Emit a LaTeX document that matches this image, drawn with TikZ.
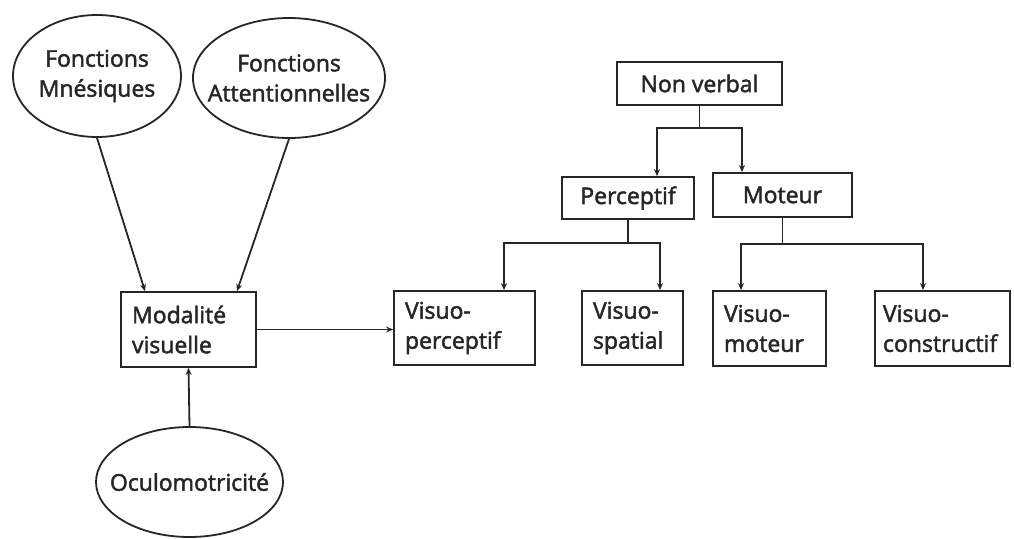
\documentclass[tikz,border=0pt]{standalone}
\usepackage{fontspec}
\setmainfont{Open Sans}
\usetikzlibrary{shapes.geometric,arrows.meta}
\begin{document}
\begin{tikzpicture}[x=1pt,y=-1pt,
  line width=1.8pt, color=black!85,
  txt/.style={font=\fontsize{23}{30}\selectfont\addfontfeatures{FakeBold=2}},
  ell/.style={draw, ellipse, inner sep=0pt},
  cbox/.style={draw, rectangle, inner sep=0pt, align=center, txt},
  lbox/.style={draw, rectangle, inner ysep=0pt, inner xsep=11pt, align=left, txt},
  etxt/.style={align=center, inner sep=0pt, txt},
  arr/.style={-{Stealth[length=7pt,width=6pt]}}]
\useasboundingbox[fill=white] (0,0) rectangle (1014,538);

% ellipses
\node[ell, minimum width=168pt, minimum height=122pt] (e1) at (97,76) {};
\node[etxt] (e1t) at (e1.center) {Fonctions\\Mnésiques};
\node[ell, minimum width=192pt, minimum height=120pt] (e2) at (289,78) {};
\node[etxt] (e2t) at (e2.center) {Fonctions\\Attentionnelles};
\node[ell, minimum width=187pt, minimum height=110pt] (oc) at (189.5,482) {};
\node[etxt] (oct) at (oc.center) {Oculomotricité};

% left box
\node[lbox, minimum width=135pt, minimum height=75pt, text width=113pt] (mod) at (188.5,329.5) {Modalité\\visuelle};

% hierarchy
\node[cbox, minimum width=165pt, minimum height=43pt] (nv) at (699.5,83.5) {Non verbal};
\node[cbox, minimum width=132pt, minimum height=42pt] (per) at (628,198) {Perceptif};
\node[cbox, minimum width=139pt, minimum height=44pt] (mot) at (782.5,195) {Moteur};

\node[lbox, minimum width=141pt, minimum height=74pt, text width=119pt] (vp) at (464.5,328) {Visuo-\\perceptif};
\node[lbox, minimum width=101pt, minimum height=74pt, text width=79pt] (vs) at (632.5,328) {Visuo-\\spatial};
\node[lbox, minimum width=113pt, minimum height=75pt, text width=91pt] (vm) at (769.5,328.5) {Visuo-\\moteur};
\node[lbox, minimum width=135pt, minimum height=75pt, text width=119pt, inner xsep=8pt] (vc) at (942.5,328.5) {Visuo-\\constructif};

% connectors
\draw[arr] (e1.south) -- ([xshift=-43.5pt]mod.north);
\draw[arr] (e2.south) -- ([xshift=48.5pt]mod.north);
\draw[arr] (oc.north) -- (mod.south);
\draw[arr] (mod.east) -- (mod.east -| vp.west);

\draw (nv.south) -- ++(0,22) coordinate (nvb);
\draw[arr] (nvb) -| ([xshift=29pt]per.north);
\draw[arr] (nvb) -| ([xshift=-40.5pt]mot.north);

\draw (per.south) -- ++(0,23) coordinate (perb);
\draw[arr] (perb) -| ([xshift=39.5pt]vp.north);
\draw[arr] (perb) -| ([xshift=27.5pt]vs.north);

\draw (mot.south) -- ++(0,26) coordinate (motb);
\draw[arr] (motb) -| ([xshift=-28.5pt]vm.north);
\draw[arr] (motb) -| ([xshift=-19.5pt]vc.north);
\end{tikzpicture}
\end{document}
